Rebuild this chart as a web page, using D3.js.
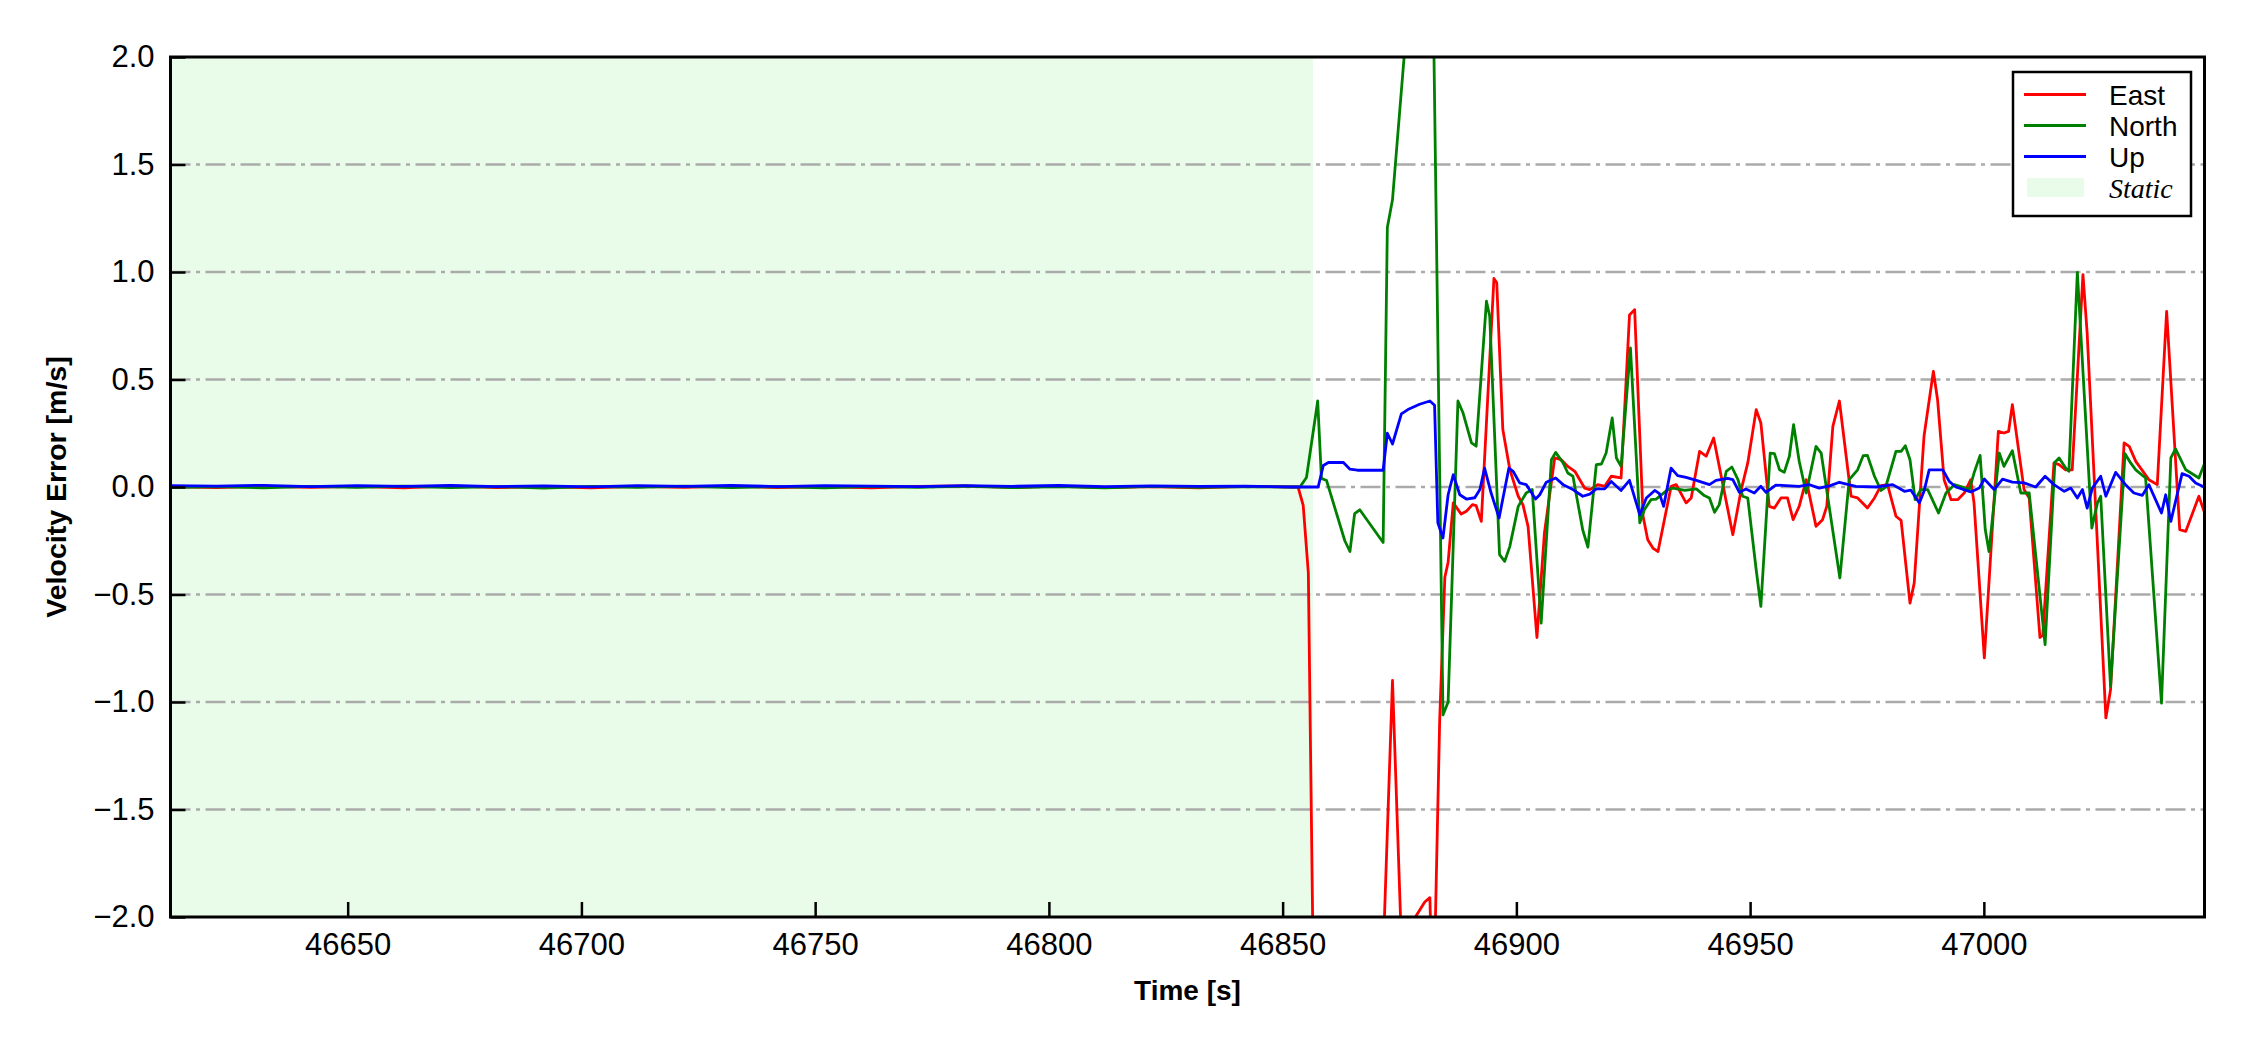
<!DOCTYPE html>
<html>
<head>
<meta charset="utf-8">
<script src="https://cdn.jsdelivr.net/npm/d3@7"></script>
<style>
  body { margin: 0; background: #fff; }
  text { font-family: "Liberation Sans", Arial, sans-serif; fill: #000; }
</style>
</head>
<body>
<svg id="chart" width="2250" height="1050"></svg>
<script>
// ---- data ----
const staticTime = [46612, 46622, 46632, 46642, 46652, 46662, 46672, 46682, 46692, 46702, 46712, 46722, 46732,
  46742, 46752, 46762, 46772, 46782, 46792, 46802, 46812, 46822, 46832, 46842, 46852];
const eastStatic = [0.002, -0.003, 0.004, -0.002, 0.003, -0.004, 0.005, -0.003, 0.002, -0.004, 0.003, -0.002, 0.004,
  -0.003, 0.002, -0.004, 0.003, 0.005, -0.002, 0.004, -0.003, 0.002, -0.004, 0.003, 0.0];
const northStatic = [-0.003, 0.002, -0.004, 0.003, -0.002, 0.004, -0.003, 0.002, -0.005, 0.003, -0.002, 0.004, -0.003,
  0.002, -0.004, 0.003, -0.002, 0.004, -0.003, 0.002, -0.004, 0.003, -0.002, 0.002, 0.0];
const upStatic = [0.006, 0.004, 0.008, 0.002, 0.006, 0.003, 0.007, 0.002, 0.005, 0.001, 0.006, 0.003, 0.007,
  0.002, 0.006, 0.004, 0.002, 0.006, 0.003, 0.007, 0.002, 0.005, 0.003, 0.004, 0.0];

const eastTime = [46853.3, 46854.4, 46855.5, 46856.7, 46871.0, 46873.5, 46876.0, 46878.4, 46880.4, 46881.5, 46882.2,
  46883.6, 46884.7, 46885.4, 46886.5, 46888.2, 46889.3, 46890.6, 46891.4, 46892.5, 46895.2, 46895.8, 46897.1, 46898.6,
  46900.4, 46901.4, 46902.5, 46904.4, 46906.0, 46908.2, 46909.6, 46911.0, 46912.5, 46914.6, 46915.7, 46917.4, 46918.9,
  46920.3, 46922.4, 46924.2, 46925.3, 46927.1, 46928.1, 46929.2, 46930.3, 46933.1, 46934.2, 46936.3, 46937.4, 46939.2,
  46940.6, 46942.2, 46946.3, 46948.1, 46949.5, 46951.3, 46952.3, 46954.1, 46955.2, 46956.6, 46958.0, 46959.2, 46960.5,
  46962.0, 46964.1, 46965.5, 46966.4, 46967.7, 46969.1, 46971.6, 46973.0, 46975.1, 46976.6, 46978.0, 46979.4, 46981.2,
  46982.3, 46984.2, 46985.1, 46987.2, 46989.2, 46990.1, 46991.5, 46993.0, 46994.4, 46995.8, 46997.2, 46997.9, 47000.1,
  47003.1, 47004.3, 47005.3, 47006.1, 47008.6, 47009.7, 47012.0, 47012.6, 47015.0, 47016.1, 47017.5, 47018.9, 47021.2,
  47022.1, 47026.1, 47027.1, 47030.0, 47031.1, 47032.5, 47035.3, 47037.1, 47039.1, 47041.9, 47043.2, 47046.0, 47047.1];
const eastVel = [0.0, -0.085, -0.40, -2.5, -2.5, -0.90, -2.5, -2.0, -1.93, -1.91, -2.5,
  -1.08, -0.42, -0.35, -0.074, -0.126, -0.113, -0.082, -0.087, -0.16, 0.97, 0.95, 0.267, 0.081,
  -0.043, -0.082, -0.183, -0.70, -0.214, 0.135, 0.127, 0.096, 0.073, -0.005, -0.012, 0.011, 0.003,
  0.05, 0.042, 0.80, 0.825, -0.136, -0.245, -0.284, -0.30, 0.003, 0.011, -0.074, -0.051, 0.166,
  0.143, 0.228, -0.222, -0.012, 0.112, 0.36, 0.298, -0.09, -0.098, -0.051, -0.051, -0.152, -0.09,
  0.034, -0.183, -0.152, -0.09, 0.282, 0.40, -0.043, -0.051, -0.098, -0.051, 0.006, 0.011, -0.136,
  -0.155, -0.54, -0.447, 0.236, 0.538, 0.406, 0.034, -0.059, -0.059, -0.028, 0.034, -0.074, -0.795,
  0.259, 0.251, 0.259, 0.383, -0.012, -0.051, -0.70, -0.69, 0.112, 0.104, 0.08, 0.08, 0.988,
  0.716, -1.074, -0.943, 0.205, 0.189, 0.119, 0.034, 0.011, 0.817, -0.198, -0.206, -0.043, -0.113];

const northTime = [46853.7, 46855.1, 46857.5, 46858.3, 46859.4, 46863.3, 46864.4, 46865.4, 46866.5, 46871.5, 46872.4,
  46873.5, 46876.1, 46878.0, 46882.0, 46884.3, 46885.4, 46887.5, 46888.6, 46890.4, 46891.4, 46893.6, 46894.3, 46896.4,
  46897.5, 46898.6, 46900.4, 46902.1, 46903.4, 46905.3, 46907.5, 46908.4, 46910.0, 46911.0, 46912.1, 46914.2, 46915.3,
  46917.1, 46918.2, 46919.2, 46920.5, 46921.4, 46922.4, 46924.4, 46926.4, 46927.4, 46928.8, 46929.9, 46932.4, 46933.5,
  46936.0, 46938.5, 46940.2, 46941.3, 46942.4, 46943.4, 46944.9, 46946.1, 46947.4, 46948.4, 46949.5, 46951.3, 46952.3,
  46954.3, 46955.2, 46956.3, 46957.3, 46958.4, 46959.3, 46960.5, 46962.0, 46964.1, 46965.2, 46969.2, 46971.2, 46973.0,
  46974.2, 46975.1, 46976.6, 46978.0, 46979.0, 46981.2, 46982.3, 46983.2, 46984.2, 46985.3, 46986.5, 46988.0, 46990.3,
  46991.9, 46993.7, 46995.4, 46996.9, 46997.9, 46999.2, 47000.3, 47001.1, 47003.3, 47004.3, 47006.1, 47007.9, 47009.7,
  47013.1, 47015.2, 47016.1, 47017.5, 47018.2, 47020.0, 47023.1, 47024.3, 47025.0, 47027.1, 47030.2, 47031.4, 47032.5,
  47034.6, 47038.0, 47040.0, 47041.0, 47043.2, 47046.0, 47047.1];
const northVel = [0.0, 0.044, 0.40, 0.04, 0.03, -0.25, -0.30, -0.124, -0.106, -0.258, 1.207,
  1.336, 2.03, 2.5, 2.6, -1.06, -1.0, 0.40, 0.344, 0.205, 0.19, 0.864, 0.794, -0.315,
  -0.346, -0.276, -0.09, -0.028, -0.012, -0.633, 0.127, 0.161, 0.112, 0.065, 0.05, -0.2, -0.28,
  0.104, 0.107, 0.158, 0.321, 0.135, 0.096, 0.647, -0.167, -0.105, -0.059, -0.056, -0.012, -0.005,
  -0.016, -0.009, -0.04, -0.051, -0.118, -0.082, 0.073, 0.093, 0.034, -0.043, -0.051, -0.385, -0.555,
  0.158, 0.155, 0.08, 0.068, 0.143, 0.29, 0.12, -0.028, 0.189, 0.158, -0.423, 0.034, 0.08,
  0.146, 0.147, 0.05, -0.016, 0.0, 0.166, 0.166, 0.192, 0.127, -0.059, -0.012, -0.012, -0.121,
  -0.028, 0.011, 0.0, -0.012, 0.065, 0.147, -0.198, -0.3, 0.158, 0.096, 0.169, -0.028, -0.028,
  -0.733, 0.115, 0.135, 0.088, 0.073, 0.998, -0.191, -0.074, -0.043, -0.927, 0.155, 0.112, 0.08,
  0.042, -1.005, 0.135, 0.177, 0.08, 0.042, 0.104];

const upTime = [46857.6, 46858.7, 46859.8, 46863.0, 46864.4, 46866.0, 46871.5, 46872.4, 46873.5, 46875.4, 46876.8,
  46879.3, 46881.5, 46882.5, 46883.2, 46884.3, 46885.4, 46886.5, 46887.9, 46889.3, 46891.1, 46892.2, 46893.2, 46894.6,
  46896.3, 46898.4, 46899.3, 46900.7, 46902.1, 46902.8, 46904.1, 46905.0, 46906.4, 46908.4, 46910.0, 46912.1, 46914.2,
  46915.7, 46917.1, 46918.9, 46920.3, 46922.4, 46924.2, 46926.4, 46927.8, 46929.6, 46930.6, 46931.5, 46933.1, 46934.5,
  46936.3, 46938.5, 46941.3, 46942.7, 46945.2, 46946.3, 46947.7, 46949.1, 46950.9, 46952.3, 46953.4, 46955.5, 46957.7,
  46960.5, 46962.6, 46964.8, 46967.0, 46969.1, 46972.6, 46977.0, 46980.5, 46983.0, 46984.4, 46986.2, 46987.2, 46988.3,
  46991.2, 46992.6, 46994.0, 46997.2, 46999.0, 47000.1, 47002.2, 47004.0, 47006.1, 47008.6, 47011.1, 47013.1, 47015.0,
  47017.2, 47018.6, 47020.0, 47021.1, 47022.1, 47023.2, 47025.0, 47026.1, 47028.2, 47030.3, 47032.1, 47033.9, 47035.3,
  47038.0, 47038.9, 47040.0, 47042.4, 47043.9, 47045.3, 47047.1];
const upVel = [0.0, 0.10, 0.114, 0.114, 0.083, 0.078, 0.078, 0.25, 0.20, 0.34, 0.36,
  0.385, 0.40, 0.38, -0.167, -0.237, -0.036, 0.057, -0.036, -0.056, -0.05, -0.012, 0.088, -0.028,
  -0.144, 0.088, 0.073, 0.019, 0.011, -0.012, -0.056, -0.036, 0.022, 0.042, 0.011, -0.012, -0.043,
  -0.033, -0.009, -0.009, 0.026, -0.016, 0.031, -0.129, -0.051, -0.016, -0.031, -0.09, 0.088, 0.053,
  0.045, 0.031, 0.011, 0.031, 0.04, 0.034, -0.025, -0.009, -0.028, 0.003, -0.025, 0.009, 0.006,
  0.003, 0.011, -0.005, 0.005, 0.022, 0.003, 0.0, 0.011, -0.02, -0.015, -0.074, -0.02, 0.08,
  0.08, 0.026, 0.0, -0.023, -0.005, 0.037, -0.012, 0.037, 0.023, 0.019, 0.0, 0.05, 0.011,
  -0.02, -0.005, -0.051, -0.012, -0.098, -0.005, 0.05, -0.043, 0.068, 0.011, -0.028, -0.039, 0.011,
  -0.121, -0.036, -0.16, 0.062, 0.05, 0.019, 0.0];

const staticSpan = [46612, 46856.5];
const xTicks = [46650, 46700, 46750, 46800, 46850, 46900, 46950, 47000];
const yTicks = [-2.0, -1.5, -1.0, -0.5, 0.0, 0.5, 1.0, 1.5, 2.0];
const seriesNames = ["East", "North", "Up"];
const seriesColors = ["#ff0000", "#008000", "#0000ff"];
const staticLabel = "Static";

// ---- layout ----
const plot = { left: 170.5, right: 2204.5, top: 57, bottom: 917 };
const staticColor = "#e9fce9";

const svg = d3.select("#chart");

const x = d3.scaleLinear().domain([46612.1, 47047.2]).range([plot.left, plot.right]);
const y = d3.scaleLinear().domain([-2, 2]).range([plot.bottom, plot.top]);

// join a static part and a moving part into [t, v] points
function makeSeries(t0, v0, t1, v1) {
  const pts = t0.map((t, i) => [t, v0[i]]);
  return pts.concat(t1.map((t, i) => [t, v1[i]]));
}

const series = [
  makeSeries(staticTime, eastStatic, eastTime, eastVel),
  makeSeries(staticTime, northStatic, northTime, northVel),
  makeSeries(staticTime, upStatic, upTime, upVel)
];

svg.append("defs").append("clipPath").attr("id", "plotClip")
  .append("rect")
  .attr("x", plot.left).attr("y", plot.top)
  .attr("width", plot.right - plot.left).attr("height", plot.bottom - plot.top);

// static period shading
svg.append("rect")
  .attr("clip-path", "url(#plotClip)")
  .attr("x", x(staticSpan[0])).attr("y", plot.top)
  .attr("width", x(staticSpan[1]) - x(staticSpan[0]))
  .attr("height", plot.bottom - plot.top)
  .attr("fill", staticColor);

// horizontal dash-dot grid
svg.append("g")
  .selectAll("line")
  .data(yTicks.filter(d => d > -2 && d < 2))
  .join("line")
  .attr("x1", plot.left).attr("x2", plot.right)
  .attr("y1", d => y(d)).attr("y2", d => y(d))
  .attr("stroke", "#aaaaaa")
  .attr("stroke-width", 2.5)
  .attr("stroke-dasharray", "20,5.5,4,5.5");

// velocity error lines
const line = d3.line().x(d => x(d[0])).y(d => y(d[1]));
svg.append("g")
  .attr("clip-path", "url(#plotClip)")
  .selectAll("path")
  .data(series)
  .join("path")
  .attr("d", line)
  .attr("fill", "none")
  .attr("stroke", (d, i) => seriesColors[i])
  .attr("stroke-width", 2.8)
  .attr("stroke-linejoin", "round");

// axes with inward ticks
const xAxis = svg.append("g")
  .attr("transform", `translate(0,${plot.bottom})`)
  .call(d3.axisBottom(x).tickValues(xTicks).tickFormat(d3.format("d"))
    .tickSizeInner(-15).tickSizeOuter(0).tickPadding(16));

const yAxis = svg.append("g")
  .attr("transform", `translate(${plot.left},0)`)
  .call(d3.axisLeft(y).tickValues(yTicks).tickFormat(d3.format(".1f"))
    .tickSizeInner(-15).tickSizeOuter(0).tickPadding(16));

[xAxis, yAxis].forEach(ax => {
  ax.select(".domain").remove();
  ax.selectAll(".tick line").attr("stroke", "#000").attr("stroke-width", 2.5);
  ax.selectAll(".tick text").style("font-family", "'Liberation Sans', Arial, sans-serif")
    .style("font-size", "31px").attr("fill", "#000");
});

// frame
svg.append("rect")
  .attr("x", plot.left).attr("y", plot.top)
  .attr("width", plot.right - plot.left).attr("height", plot.bottom - plot.top)
  .attr("fill", "none").attr("stroke", "#000").attr("stroke-width", 3);

// axis titles
svg.append("text")
  .attr("x", (plot.left + plot.right) / 2).attr("y", 1000)
  .attr("text-anchor", "middle")
  .style("font-size", "28px").style("font-weight", "bold")
  .text("Time [s]");

svg.append("text")
  .attr("transform", `translate(66,${(plot.top + plot.bottom) / 2}) rotate(-90)`)
  .attr("text-anchor", "middle")
  .style("font-size", "28.5px").style("font-weight", "bold")
  .text("Velocity Error [m/s]");

// legend
const legend = svg.append("g").attr("transform", "translate(2013,72)");
legend.append("rect")
  .attr("width", 178).attr("height", 144)
  .attr("fill", "#fff").attr("stroke", "#000").attr("stroke-width", 2.5);

const rowY = [22.5, 53.5, 84.5, 115.5];
seriesNames.forEach((name, i) => {
  legend.append("line")
    .attr("x1", 11).attr("x2", 73)
    .attr("y1", rowY[i]).attr("y2", rowY[i])
    .attr("stroke", seriesColors[i]).attr("stroke-width", 2.8);
  legend.append("text")
    .attr("x", 96).attr("y", rowY[i] + 10)
    .style("font-size", "28px")
    .text(name);
});
legend.append("rect")
  .attr("x", 14).attr("y", 106).attr("width", 57).attr("height", 19)
  .attr("fill", staticColor);
legend.append("text")
  .attr("x", 96).attr("y", rowY[3] + 10.5)
  .style("font-family", "'Liberation Serif', 'Times New Roman', serif")
  .style("font-style", "italic")
  .style("font-size", "28px")
  .text(staticLabel);
</script>
</body>
</html>
